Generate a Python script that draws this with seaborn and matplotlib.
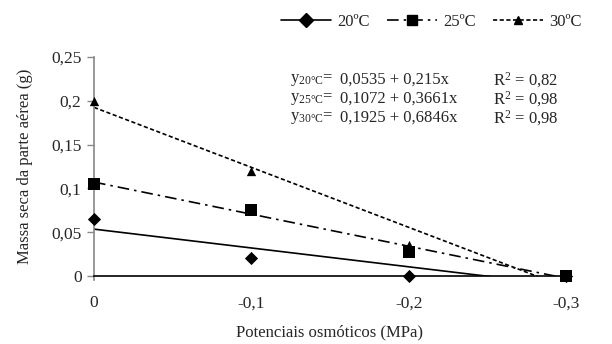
import numpy as np
import pandas as pd
import matplotlib
matplotlib.use("Agg")
import matplotlib.pyplot as plt
from matplotlib.lines import Line2D
import seaborn as sns

# measured dry mass of shoots at each osmotic potential
potentials = [0, -0.1, -0.2, -0.3]
mass_20 = [0.065, 0.020, 0.0, 0.0]
mass_25 = [0.105, 0.075, 0.027, 0.0]
mass_30 = [0.200, 0.120, 0.035, 0.0]

# fitted regressions (y = a + b x)
temps = ["20ºC", "25ºC", "30ºC"]
intercepts = [0.0535, 0.1072, 0.1925]
slopes = [0.215, 0.3661, 0.6846]
r2_values = ["0,82", "0,98", "0,98"]
eq_texts = ["0,0535 + 0,215x", "0,1072 + 0,3661x", "0,1925 + 0,6846x"]

x_ticks = [0, -0.1, -0.2, -0.3]
x_labels = ["0", "-0,1", "-0,2", "-0,3"]
y_ticks = [0, 0.05, 0.1, 0.15, 0.2, 0.25]
y_labels = ["0", "0,05", "0,1", "0,15", "0,2", "0,25"]

df = pd.DataFrame({
    "x": potentials * 3,
    "y": mass_20 + mass_25 + mass_30,
    "temp": [t for t in temps for _ in potentials],
})

sns.set_theme(style="white")
serif = ["Liberation Serif", "DejaVu Serif"]
plt.rcParams["font.family"] = serif
plt.rcParams["mathtext.fontset"] = "custom"
plt.rcParams["mathtext.rm"] = "Liberation Serif"
plt.rcParams["mathtext.it"] = "Liberation Serif:italic"

fig = plt.figure(figsize=(6.12, 3.44), dpi=100)
ax = fig.add_axes([94 / 612, 1 - 276 / 344, (566 - 94) / 612, (276 - 57) / 344])

markers = {"20ºC": "D", "25ºC": "s", "30ºC": "^"}
sizes = {"20ºC": 45, "25ºC": 70, "30ºC": 45}
styles = {"20ºC": "-", "25ºC": (0, (7, 3, 1.5, 3)), "30ºC": (0, (2.5, 1.5))}

xs = np.linspace(0, -0.3, 200)
for t, a, b in zip(temps, intercepts, slopes):
    ax.plot(xs, a + b * xs, color="black", lw=1.2, linestyle=styles[t], zorder=2)
    sub = df[df["temp"] == t]
    sns.scatterplot(data=sub, x="x", y="y", marker=markers[t], s=sizes[t],
                    color="black", edgecolor="black", linewidth=0, ax=ax,
                    clip_on=False, zorder=3, legend=False)

ax.set_xlim(0, -0.3)
ax.set_ylim(0, 0.25)
ax.set_xticks(x_ticks)
ax.set_xticklabels(x_labels, fontfamily=serif)
ax.set_yticks(y_ticks)
ax.set_yticklabels(y_labels, fontfamily=serif)
ax.tick_params(axis="x", length=0, pad=14, labelsize=12.5)
ax.tick_params(axis="y", direction="out", length=5, width=1, color="#888888",
               pad=4, labelsize=12.5, left=True)
ax.set_xlabel("Potenciais osmóticos (MPa)", fontsize=12, labelpad=9, fontfamily=serif)
ax.set_ylabel("Massa seca da parte aérea (g)", fontsize=12, labelpad=13, fontfamily=serif)

for s in ["top", "right"]:
    ax.spines[s].set_visible(False)
ax.spines["left"].set_color("#888888")
ax.spines["left"].set_linewidth(1.2)
ax.spines["left"].set_bounds(-0.004, 0.25)
ax.spines["bottom"].set_color("black")
ax.spines["bottom"].set_linewidth(1.2)

# equations, placed in figure pixels
eq_rows = [80, 99, 118]
for t, eq, r2, yy in zip(temps, eq_texts, r2_values, eq_rows):
    fy = 1 - yy / 344
    fig.text(290 / 612, fy, "y$_{\\mathrm{" + t.replace("º", "°") + "}}$=",
             fontsize=12, va="center", fontfamily=serif)
    fig.text(340 / 612, fy, eq, fontsize=12, va="center", fontfamily=serif)
    fig.text(493 / 612, fy, "R$^{2}$ = " + r2, fontsize=12, va="center", fontfamily=serif)

handles = [Line2D([0], [0], color="black", lw=1.2, linestyle=styles[t],
                  marker=markers[t], markersize=7 if t != "30ºC" else 6)
           for t in temps]
fig.legend(handles, temps, loc="center right", bbox_to_anchor=(0.975, 0.936),
           ncol=3, frameon=False, prop={"family": serif, "size": 12},
           handlelength=3.0, columnspacing=1.0, handletextpad=0.4)

fig.savefig("out.png", dpi=100)
